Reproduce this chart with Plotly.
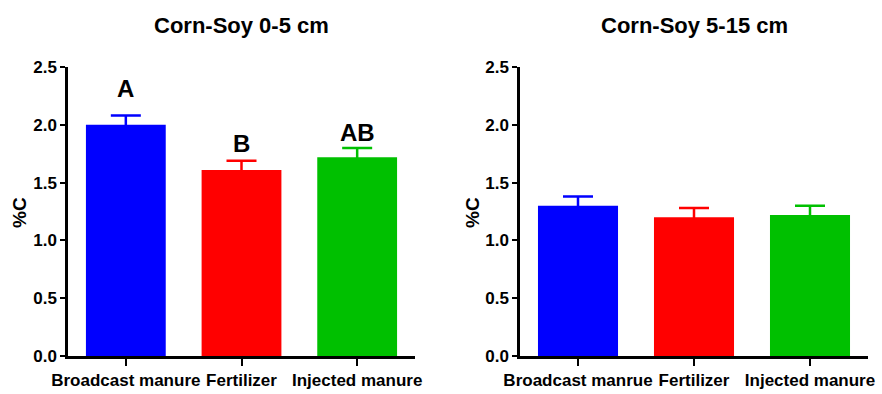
import plotly.graph_objects as go
from plotly.subplots import make_subplots

# Treatments and mean %C with standard errors for each soil depth
treatments_0_5 = ["Broadcast manure", "Fertilizer", "Injected manure"]
treatments_5_15 = ["Broadcast manrue", "Fertilizer", "Injected manure"]
mean_0_5 = [2.00, 1.61, 1.72]
se_0_5 = [0.08, 0.08, 0.08]
mean_5_15 = [1.30, 1.20, 1.22]
se_5_15 = [0.08, 0.08, 0.08]
letters_0_5 = ["A", "B", "AB"]
bar_colors = ["#0000FF", "#FF0000", "#00C000"]
y_ticks = [0.0, 0.5, 1.0, 1.5, 2.0, 2.5]
panel_titles = ["Corn-Soy 0-5 cm", "Corn-Soy 5-15 cm"]

FONT = "Liberation Sans, Arial, sans-serif"
W, H = 882, 394


def bold(size):
    return dict(family=FONT, size=size, color="black", weight="bold")


fig = make_subplots(rows=1, cols=2)

for col, (cats, means, ses) in enumerate(
    [(treatments_0_5, mean_0_5, se_0_5), (treatments_5_15, mean_5_15, se_5_15)], start=1
):
    for i, (c, m, s) in enumerate(zip(cats, means, ses)):
        fig.add_trace(
            go.Bar(
                x=[c], y=[m],
                marker=dict(color=bar_colors[i], line=dict(width=0)),
                width=0.69,
                # lower half falls inside the bar in the same colour, so only the
                # upward whisker shows
                error_y=dict(
                    type="data", array=[s], symmetric=True,
                    color=bar_colors[i], thickness=2.5, width=15,
                ),
                showlegend=False,
            ),
            row=1, col=col,
        )

# Plot-area placement in pixels
left_dom = [68 / W, 415 / W]
right_dom = [520 / W, 868 / W]
y_dom = [1 - 356 / H, 1 - 67 / H]

axis_common = dict(
    showline=True, linecolor="black", linewidth=2.5,
    ticks="outside", tickcolor="black", tickwidth=2,
    showgrid=False, zeroline=False, automargin=False,
)

fig.update_xaxes(
    **axis_common, ticklen=7, range=[-0.5, 2.5], tickangle=0,
    tickfont=bold(17),
)
fig.update_yaxes(
    **axis_common, ticklen=5, range=[0, 2.5],
    tickvals=y_ticks, ticktext=[f"{v:.1f}" for v in y_ticks],
    tickfont=bold(17),
)
fig.update_layout(
    xaxis=dict(domain=left_dom),
    xaxis2=dict(domain=right_dom),
    yaxis=dict(domain=y_dom),
    yaxis2=dict(domain=y_dom),
)

annotations = []
# Significance letters above the 0-5 cm bars
letter_shift = [12, 2, 0]
for i, (c, m, s, L) in enumerate(zip(treatments_0_5, mean_0_5, se_0_5, letters_0_5)):
    annotations.append(dict(
        x=c, y=m + s, xref="x", yref="y", text=L,
        showarrow=False, yanchor="bottom", yshift=letter_shift[i],
        font=bold(24),
    ))

# Panel titles
for title, dom in zip(panel_titles, [left_dom, right_dom]):
    annotations.append(dict(
        x=(dom[0] + dom[1]) / 2, y=1 - 25 / H, xref="paper", yref="paper",
        yanchor="middle", xanchor="center", text=title,
        showarrow=False, font=bold(22),
    ))

# Y-axis titles
for xpx in [19, 472]:
    annotations.append(dict(
        x=xpx / W, y=1 - 213 / H, xref="paper", yref="paper",
        text="%C", textangle=-90, showarrow=False,
        xanchor="center", yanchor="middle",
        font=bold(19),
    ))

fig.update_layout(
    annotations=annotations,
    width=W, height=H,
    margin=dict(l=0, r=0, t=0, b=0),
    plot_bgcolor="white", paper_bgcolor="white",
)

fig.write_html("out.html")
